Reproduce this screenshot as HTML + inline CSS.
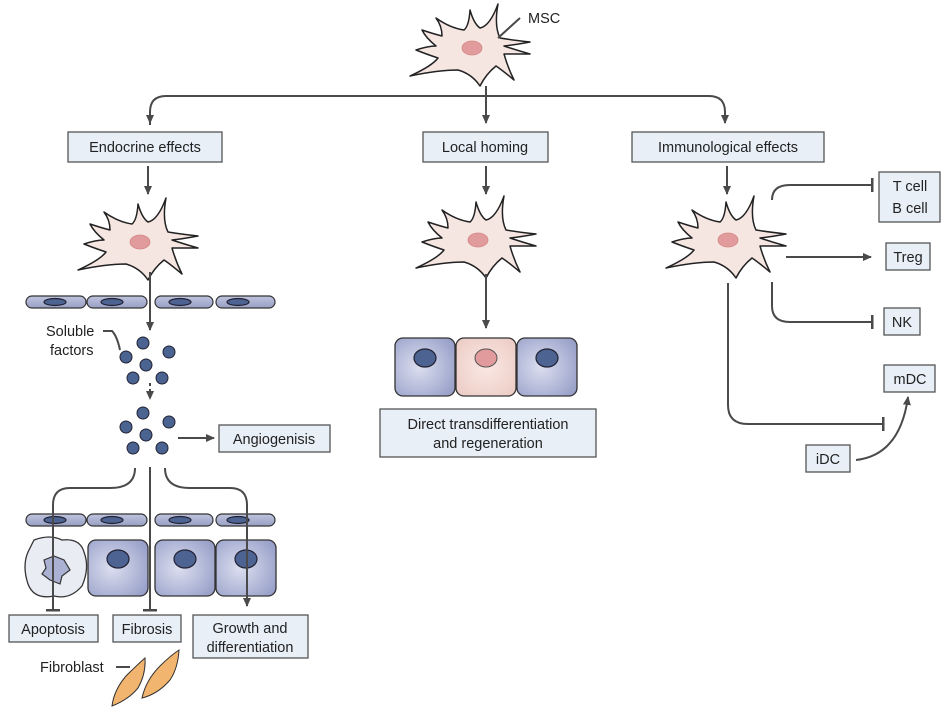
<!DOCTYPE html>
<html><head><meta charset="utf-8"><style>
html,body{margin:0;padding:0;background:#fff;}
svg{display:block;font-family:"Liberation Sans",sans-serif;}
text{font-size:14.5px;fill:#222;}
.bx{fill:#e8eff7;stroke:#555;stroke-width:1.3;}
.ln{fill:none;stroke:#4a4a4a;stroke-width:2;}
.cell{fill:#f6e6e2;stroke:#222;stroke-width:1.5;stroke-linejoin:round;}
.endo{fill:url(#eg);stroke:#333;stroke-width:1.2;}
.big{fill:url(#bg);stroke:#333;stroke-width:1.3;}
.nuc{fill:#4d6391;stroke:#223;stroke-width:1.2;}
.dot{fill:#4a6391;stroke:#223;stroke-width:1;}
</style></head><body>
<svg width="946" height="714" viewBox="0 0 946 714">
<defs>
<marker id="ar" markerWidth="10" markerHeight="10" refX="8" refY="5" orient="auto" markerUnits="userSpaceOnUse"><path d="M0,1 L9,5 L0,9 Z" fill="#4a4a4a"/></marker>
<marker id="bar" markerWidth="4" markerHeight="14" refX="2" refY="7" orient="auto" markerUnits="userSpaceOnUse"><rect x="0" y="0" width="2.5" height="14" fill="#4a4a4a"/></marker>
<linearGradient id="eg" x1="0" y1="0" x2="0" y2="1"><stop offset="0" stop-color="#bfc4de"/><stop offset="1" stop-color="#979fc3"/></linearGradient>
<radialGradient id="bg" cx="0.4" cy="0.5" r="0.7"><stop offset="0" stop-color="#dcdff0"/><stop offset="1" stop-color="#979fc8"/></radialGradient>
<radialGradient id="pg" cx="0.5" cy="0.5" r="0.7"><stop offset="0" stop-color="#fbe8e4"/><stop offset="1" stop-color="#ebcac3"/></radialGradient>
<g id="msc">
<path class="cell" d="M-8,-18 Q-3,-22 -2,-38 Q2,-24 8,-20 Q18,-22 26,-44 Q22,-22 28,-10 Q40,-8 58,-6 Q42,-3 32,-2 Q44,2 58,6 Q42,6 32,6 Q36,20 42,32 Q30,22 24,18 Q14,26 8,38 Q0,26 -14,22 Q-34,22 -62,28 Q-40,18 -34,10 Q-46,6 -56,2 Q-44,-2 -36,-2 Q-46,-10 -50,-18 Q-38,-14 -30,-12 Q-30,-22 -36,-30 Q-22,-20 -8,-18 Z"/>
<ellipse cx="0" cy="0" rx="10" ry="7" fill="#e29b9c" stroke="#d08888" stroke-width="0.8"/>
</g>
<g id="endorow">
<rect class="endo" x="26" y="-6" width="60" height="12" rx="6"/><ellipse class="nuc" cx="55" cy="0" rx="11" ry="3.5"/>
<rect class="endo" x="87" y="-6" width="60" height="12" rx="6"/><ellipse class="nuc" cx="112" cy="0" rx="11" ry="3.5"/>
<rect class="endo" x="155" y="-6" width="58" height="12" rx="6"/><ellipse class="nuc" cx="180" cy="0" rx="11" ry="3.5"/>
<rect class="endo" x="216" y="-6" width="59" height="12" rx="6"/><ellipse class="nuc" cx="238" cy="0" rx="11" ry="3.5"/>
</g>
<g id="dots">
<circle class="dot" cx="143" cy="0" r="6"/><circle class="dot" cx="126" cy="14" r="6"/><circle class="dot" cx="169" cy="9" r="6"/>
<circle class="dot" cx="146" cy="22" r="6"/><circle class="dot" cx="133" cy="35" r="6"/><circle class="dot" cx="162" cy="35" r="6"/>
</g>
</defs>

<use href="#msc" x="472" y="48"/>
<path class="ln" d="M498,38 L520,18" stroke-width="1.3"/>
<text x="528" y="23">MSC</text>
<path class="ln" d="M150,125 L150,112 Q150,96 166,96 L709,96 Q725,96 725,112 L725,123" marker-end="url(#ar)"/>
<path class="ln" d="M150,112 L150,123" marker-end="url(#ar)"/>
<path class="ln" d="M486,86 L486,123" marker-end="url(#ar)"/>

<rect class="bx" x="68" y="132" width="154" height="30"/><text x="145" y="152" text-anchor="middle">Endocrine effects</text>
<rect class="bx" x="423" y="132" width="125" height="30"/><text x="485" y="152" text-anchor="middle">Local homing</text>
<rect class="bx" x="632" y="132" width="192" height="30"/><text x="728" y="152" text-anchor="middle">Immunological effects</text>

<path class="ln" d="M148,166 L148,194" marker-end="url(#ar)"/>
<path class="ln" d="M486,166 L486,194" marker-end="url(#ar)"/>
<path class="ln" d="M727,166 L727,194" marker-end="url(#ar)"/>

<use href="#msc" x="140" y="242"/>
<use href="#endorow" x="0" y="302"/>
<path class="ln" d="M150,272 L150,330" marker-end="url(#ar)"/>
<text x="46" y="336">Soluble</text><text x="50" y="355">factors</text>
<path class="ln" d="M103,331 L112,331 Q117,336 120,350" stroke-width="1.3"/>
<use href="#dots" x="0" y="343"/>
<path class="ln" d="M150,383 L150,399" stroke-dasharray="3,3" marker-end="url(#ar)"/>
<use href="#dots" x="0" y="413"/>
<path class="ln" d="M178,438 L214,438" marker-end="url(#ar)"/>
<rect class="bx" x="219" y="425" width="111" height="27"/><text x="274" y="444" text-anchor="middle">Angiogenisis</text>
<use href="#endorow" x="0" y="520"/>
<path d="M34,540 Q50,534 62,540 Q80,538 84,552 Q90,568 82,586 Q70,600 54,596 Q34,600 28,584 Q22,566 28,552 Z" fill="#eaecf4" stroke="#333" stroke-width="1.3"/>
<path d="M44,560 L54,556 L64,560 L70,570 L62,576 L60,584 L50,580 L42,574 L46,568 Z" fill="#aab1d2" stroke="#333" stroke-width="1.2"/>
<rect class="big" x="88" y="540" width="60" height="56" rx="8"/><ellipse class="nuc" cx="118" cy="559" rx="11" ry="9"/>
<rect class="big" x="155" y="540" width="60" height="56" rx="8"/><ellipse class="nuc" cx="185" cy="559" rx="11" ry="9"/>
<rect class="big" x="216" y="540" width="60" height="56" rx="8"/><ellipse class="nuc" cx="246" cy="559" rx="11" ry="9"/>
<path class="ln" d="M135,468 Q135,488 110,488 L70,488 Q53,488 53,505 L53,611" marker-end="url(#bar)"/>
<path class="ln" d="M150,467 L150,611" marker-end="url(#bar)"/>
<path class="ln" d="M165,468 Q165,488 190,488 L230,488 Q247,488 247,505 L247,606" marker-end="url(#ar)"/>
<rect class="bx" x="9" y="615" width="89" height="27"/><text x="53" y="634" text-anchor="middle">Apoptosis</text>
<rect class="bx" x="113" y="615" width="68" height="27"/><text x="147" y="634" text-anchor="middle">Fibrosis</text>
<rect class="bx" x="193" y="615" width="115" height="43"/><text x="250" y="633" text-anchor="middle">Growth and</text><text x="250" y="652" text-anchor="middle">differentiation</text>
<text x="40" y="672">Fibroblast</text>
<path class="ln" d="M116,667 L130,667" stroke-width="1.3"/>
<path d="M112,706 Q114,690 126,676 Q136,666 145,658 Q146,674 138,688 Q128,700 112,706 Z" fill="#f2b56f" stroke="#333" stroke-width="1"/>
<path d="M142,698 Q146,680 160,666 Q170,656 179,650 Q178,668 170,680 Q158,694 142,698 Z" fill="#f2b56f" stroke="#333" stroke-width="1"/>

<use href="#msc" x="478" y="240"/>
<path class="ln" d="M486,274 L486,328" marker-end="url(#ar)"/>
<rect class="big" x="395" y="338" width="60" height="58" rx="8"/><ellipse class="nuc" cx="425" cy="358" rx="11" ry="9"/>
<rect x="456" y="338" width="60" height="58" rx="8" fill="url(#pg)" stroke="#333" stroke-width="1.3"/><ellipse cx="486" cy="358" rx="11" ry="9" fill="#e29b9c" stroke="#555" stroke-width="1"/>
<rect class="big" x="517" y="338" width="60" height="58" rx="8"/><ellipse class="nuc" cx="547" cy="358" rx="11" ry="9"/>
<rect class="bx" x="380" y="409" width="216" height="48"/>
<text x="488" y="429" text-anchor="middle">Direct transdifferentiation</text><text x="488" y="448" text-anchor="middle">and regeneration</text>

<use href="#msc" x="728" y="240"/>
<path class="ln" d="M772,200 Q772,185 790,185 L873,185" marker-end="url(#bar)"/>
<rect class="bx" x="879" y="172" width="61" height="50"/><text x="910" y="191" text-anchor="middle">T cell</text><text x="910" y="213" text-anchor="middle">B cell</text>
<path class="ln" d="M786,257 L871,257" marker-end="url(#ar)"/>
<rect class="bx" x="886" y="243" width="44" height="27"/><text x="908" y="262" text-anchor="middle">Treg</text>
<path class="ln" d="M772,282 L772,306 Q772,322 790,322 L873,322" marker-end="url(#bar)"/>
<rect class="bx" x="884" y="308" width="36" height="27"/><text x="902" y="327" text-anchor="middle">NK</text>
<rect class="bx" x="884" y="365" width="51" height="27"/><text x="910" y="384" text-anchor="middle">mDC</text>
<path class="ln" d="M728,283 L728,405 Q728,424 748,424 L884,424" marker-end="url(#bar)"/>
<rect class="bx" x="806" y="445" width="44" height="27"/><text x="828" y="464" text-anchor="middle">iDC</text>
<path class="ln" d="M856,460 Q900,455 908,397" marker-end="url(#ar)"/>
</svg>
</body></html>
